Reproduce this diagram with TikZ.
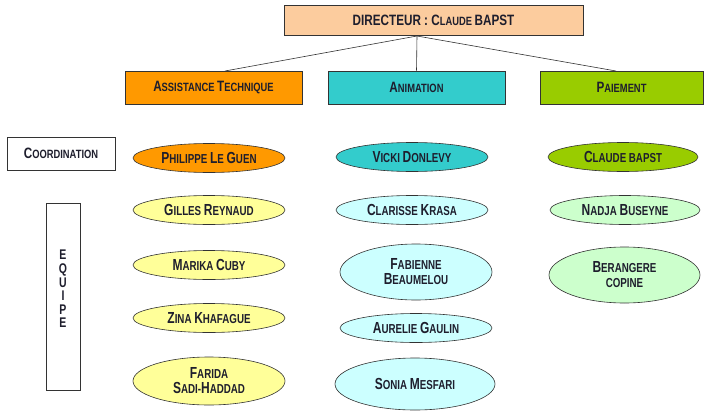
\documentclass[tikz,border=0pt]{standalone}
\usepackage{fontspec}
\setmainfont{Liberation Sans}[FakeStretch=0.75]
\newfontfamily\hdfont{Liberation Sans}[FakeStretch=0.78]
\usetikzlibrary{shapes.geometric}
\definecolor{txt}{RGB}{30,30,45}
\definecolor{peach}{RGB}{252,204,158}
\definecolor{orng}{RGB}{255,153,0}
\definecolor{teal}{RGB}{51,204,204}
\definecolor{lime}{RGB}{153,204,0}
\definecolor{lyel}{RGB}{255,255,153}
\definecolor{lcya}{RGB}{204,255,255}
\definecolor{lgrn}{RGB}{204,255,204}
\newcommand\Ini[1]{{\fontsize{16}{16}\selectfont #1}}
\newcommand\Inh[1]{{\fontsize{15}{15}\selectfont #1}}
\tikzset{
  base/.style={text=txt,font=\bfseries\fontsize{13}{15}\selectfont,align=center,inner sep=0pt},
  headbox/.style={base,font=\hdfont\bfseries\fontsize{12}{14}\selectfont,draw=black!80,line width=0.6pt,rectangle,minimum height=33pt},
  person/.style={base,draw=black!80,line width=0.6pt,ellipse,minimum width=152pt,minimum height=29pt},
  tall/.style={minimum height=52pt},
  link/.style={draw=black!80,line width=0.6pt}
}
\begin{document}
\begin{tikzpicture}[x=1pt,y=-1pt]
\useasboundingbox (0,0) rectangle (706,412);
\fill[white] (0,0) rectangle (706,412);
% header
\node[headbox,fill=peach,minimum width=299pt,minimum height=30pt] (dir) at (433.5,20) {\Inh{DIRECTEUR : C}LAUDE \Inh{BAPST}};
\node[headbox,fill=orng,minimum width=177pt] (ass) at (213.5,87.5) {\Inh{A}SSISTANCE \Inh{T}ECHNIQUE};
\node[headbox,fill=teal,minimum width=177pt] (ani) at (416.5,87.5) {\Inh{A}NIMATION};
\node[headbox,fill=lime,minimum width=163pt] (pai) at (621.5,87.5) {\Inh{P}AIEMENT};
\coordinate (apex) at (417,36);
\coordinate (tl) at (225,71);
\coordinate (tr) at (616,71);
\draw[link] (apex) -- (tl);
\draw[link] (apex) -- (ani.north);
\draw[link] (apex) -- (tr);
% side labels
\node[headbox,minimum width=108pt] (coord) at (61,153.5) {\Inh{C}OORDINATION};
\node[headbox,minimum width=34pt,minimum height=187pt] (equ) at (63,296.5) {};
\node[base,font=\bfseries\fontsize{14}{13.6}\selectfont] (equt) at (63,289) {E\\Q\\U\\I\\P\\E};
% column 1
\node[person,fill=orng] (p1) at (209,158) {\Ini{P}HILIPPE \Ini{L}E \Ini{G}UEN};
\node[person,fill=lyel] (p2) at (209,210) {\Ini{G}ILLES \Ini{R}EYNAUD};
\node[person,fill=lyel] (p3) at (209,265) {\Ini{M}ARIKA \Ini{C}UBY};
\node[person,fill=lyel] (p4) at (209,318) {\Ini{Z}INA \Ini{K}HAFAGUE};
\node[person,fill=lyel,tall,minimum height=48pt] (p5) at (209,381) {\Ini{F}ARIDA\\\Ini{S}ADI-\Ini{H}ADDAD};
% column 2
\node[person,fill=teal] (a1) at (412,157) {\Ini{V}ICKI \Ini{D}ONLEVY};
\node[person,fill=lcya] (a2) at (412,210) {\Ini{C}LARISSE \Ini{K}RASA};
\node[person,fill=lcya,tall,minimum height=56pt] (a3) at (416,272) {\Ini{F}ABIENNE\\\Ini{B}EAUMELOU};
\node[person,fill=lcya] (a4) at (416,328) {\Ini{A}URELIE \Ini{G}AULIN};
\node[person,fill=lcya,tall,minimum width=160pt] (a5) at (415,384) {\Ini{S}ONIA \Ini{M}ESFARI};
% column 3
\node[person,fill=lime,minimum width=150pt] (c1) at (623,157) {\Ini{C}LAUDE BAPST};
\node[person,fill=lgrn,minimum width=150pt] (c2) at (625,210) {\Ini{N}ADJA \Ini{B}USEYNE};
\node[person,fill=lgrn,tall,minimum width=151pt,minimum height=56pt] (c3) at (624.5,275) {\Ini{B}ERANGERE\\COPINE};
\end{tikzpicture}
\end{document}
